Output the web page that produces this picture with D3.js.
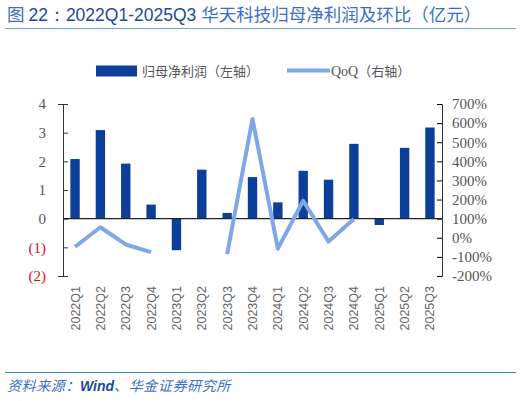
<!DOCTYPE html>
<html>
<head>
<meta charset="utf-8">
<script src="https://cdn.jsdelivr.net/npm/d3@7"></script>
<style>
  body { margin: 0; background: #fff; }
  svg { display: block; }
</style>
</head>
<body>
<svg id="chart" width="527" height="401"></svg>
<script>
// quarters on the x axis
const quarters = ["2022Q1", "2022Q2", "2022Q3", "2022Q4", "2023Q1", "2023Q2", "2023Q3", "2023Q4",
                  "2024Q1", "2024Q2", "2024Q3", "2024Q4", "2025Q1", "2025Q2", "2025Q3"];
// net profit, 100m yuan (left axis)
const profit = [2.08, 3.09, 1.92, 0.49, -1.10, 1.71, 0.20, 1.45, 0.57, 1.67, 1.36, 2.61, -0.22, 2.47, 3.18];
// QoQ, percent (right axis); null = not drawn
const qoq = [-47, 55, -35, -75, null, null, -86, 622, -57, 194, -20, 98, null, null, null];
const leftTicks = [4, 3, 2, 1, 0, -1, -2];
const rightTicks = [700, 600, 500, 400, 300, 200, 100, 0, -100, -200];

const darkBlue = "#0b3f9a";
const lightBlue = "#7ea7e6";
const titleBlue = "#3a6fc4";

const svg = d3.select("#chart");

// title
const title = svg.append("text").attr("x", 7).attr("y", 21)
    .style("font-family", "'Noto Sans CJK SC', 'Liberation Sans', sans-serif")
    .style("font-size", "17.5px");
title.append("tspan").attr("fill", titleBlue).text("图 ");
title.append("tspan").attr("fill", "#1a4a9e").style("font-family", "'Liberation Sans', Arial, sans-serif")
    .text("22：2022Q1-2025Q3 ");
title.append("tspan").attr("fill", titleBlue).text("华天科技归母净利润及环比（亿元）");

svg.append("line").attr("x1", 5).attr("x2", 516).attr("y1", 28.5).attr("y2", 28.5)
    .attr("stroke", "#6aa8dc").attr("stroke-width", 1.2);

// scales
const x = d3.scaleBand().domain(quarters).range([63, 442]).paddingInner(0.63).paddingOuter(0.29);
const yL = d3.scaleLinear().domain([-2, 4]).range([276, 104]);
const yR = d3.scaleLinear().domain([-200, 700]).range([276, 104]);

const serif = "'Liberation Serif', 'Times New Roman', serif";

// left axis
const axL = svg.append("g").attr("transform", "translate(63,0)")
    .call(d3.axisLeft(yL).tickValues(leftTicks).tickSize(5)
        .tickFormat(d => d < 0 ? "(" + Math.abs(d) + ")" : d));
axL.select(".domain").attr("stroke", "#333").attr("d", "M-5,104.5H0.5V276.5H-5");
axL.selectAll(".tick line").attr("stroke", "#333").attr("x2", 5).attr("x1", 0);
axL.selectAll(".tick text").attr("x", -17)
    .style("font-family", serif).style("font-size", "15px")
    .attr("fill", d => d < 0 ? "#e01010" : "#555");

// right axis
const axR = svg.append("g").attr("transform", "translate(442,0)")
    .call(d3.axisRight(yR).tickValues(rightTicks).tickSize(-5)
        .tickFormat(d => d + "%"));
axR.select(".domain").attr("stroke", "#333").attr("d", "M-5,104.5H0.5V276.5H-5");
axR.selectAll(".tick text").attr("x", 10)
    .style("font-family", serif).style("font-size", "15px").attr("fill", "#555");

// bars
svg.append("g").selectAll("rect").data(quarters).join("rect")
    .attr("x", d => x(d))
    .attr("width", x.bandwidth())
    .attr("y", (d, i) => Math.min(yL(profit[i]), yL(0)))
    .attr("height", (d, i) => Math.abs(yL(profit[i]) - yL(0)))
    .attr("fill", darkBlue);

// zero line
svg.append("line").attr("x1", 63).attr("x2", 442).attr("y1", yL(0)).attr("y2", yL(0))
    .attr("stroke", "#222").attr("stroke-width", 1.2);

// QoQ line
const line = d3.line()
    .defined(d => d.v !== null)
    .x(d => x(d.q) + x.bandwidth() / 2)
    .y(d => yR(d.v));
svg.append("path")
    .datum(quarters.map((q, i) => ({ q: q, v: qoq[i] })))
    .attr("d", line)
    .attr("fill", "none")
    .attr("stroke", lightBlue)
    .attr("stroke-width", 4)
    .attr("stroke-linejoin", "round");

// x labels
svg.append("g").selectAll("text").data(quarters).join("text")
    .attr("transform", d => "translate(" + (x(d) + x.bandwidth() / 2 + 4.5) + ",286) rotate(-90)")
    .attr("text-anchor", "end")
    .style("font-family", "'Liberation Sans', Arial, sans-serif")
    .style("font-size", "12.5px")
    .attr("fill", "#666")
    .text(d => d);

// legend
const legendFont = "'Noto Sans CJK SC', sans-serif";
svg.append("rect").attr("x", 96).attr("y", 65.5).attr("width", 41).attr("height", 11).attr("fill", darkBlue);
svg.append("text").attr("x", 142).attr("y", 75.5)
    .style("font-family", legendFont).style("font-size", "13px").attr("fill", "#555")
    .text("归母净利润（左轴）");
svg.append("line").attr("x1", 287).attr("x2", 330).attr("y1", 70.5).attr("y2", 70.5)
    .attr("stroke", lightBlue).attr("stroke-width", 4);
const lt = svg.append("text").attr("x", 331).attr("y", 75.5)
    .style("font-size", "13px").attr("fill", "#555");
lt.append("tspan").style("font-family", serif).style("font-size", "14px").text("QoQ");
lt.append("tspan").style("font-family", legendFont).text("（右轴）");

// footer
svg.append("line").attr("x1", 5).attr("x2", 516).attr("y1", 372.5).attr("y2", 372.5)
    .attr("stroke", "#2e86d0").attr("stroke-width", 1.2);
const ft = svg.append("text").attr("x", 7).attr("y", 391)
    .style("font-family", legendFont).style("font-size", "14px").style("font-style", "italic")
    .style("letter-spacing", "0.6px");
ft.append("tspan").attr("fill", titleBlue).text("资料来源：");
ft.append("tspan").attr("fill", "#1a4a9e").style("font-family", "'Liberation Sans', Arial, sans-serif")
    .style("font-weight", "bold").style("letter-spacing", "0px").text("Wind");
ft.append("tspan").attr("fill", titleBlue).text("、华金证券研究所");
</script>
</body>
</html>
